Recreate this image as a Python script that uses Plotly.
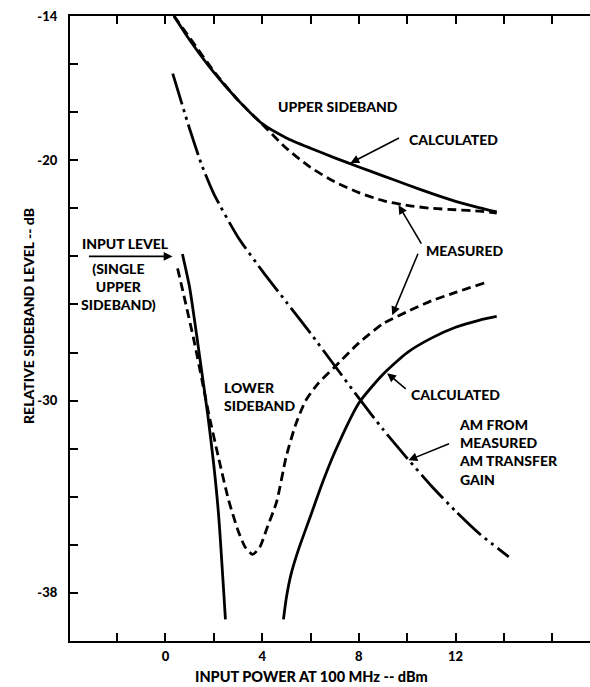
import plotly.graph_objects as go

# ---------------- data ----------------
upper_calc_x = [0.35, 1.0, 2.0, 3.0, 4.0, 5.0, 6.0, 7.0, 8.0, 9.0, 10.0, 11.0, 12.0, 13.0, 13.7]
upper_calc_y = [-14.0, -15.0, -16.35, -17.5, -18.48, -19.07, -19.5, -19.9, -20.28, -20.65, -21.02, -21.38, -21.71, -21.98, -22.15]

upper_meas_x = [0.35, 1.0, 2.0, 3.0, 4.0, 5.0, 6.0, 7.0, 8.0, 9.0, 10.0, 11.0, 12.0, 13.0, 13.7]
upper_meas_y = [-14.0, -14.9, -16.3, -17.5, -18.5, -19.5, -20.3, -20.9, -21.35, -21.68, -21.88, -22.0, -22.06, -22.12, -22.2]

am_x = [0.3, 1.0, 1.5, 2.0, 3.0, 4.0, 5.0, 6.0, 7.0, 8.0, 9.0, 10.0, 11.0, 12.0, 13.0, 14.2]
am_y = [-16.4, -18.7, -20.2, -21.4, -23.2, -24.6, -25.9, -27.2, -28.55, -29.9, -31.2, -32.4, -33.55, -34.6, -35.55, -36.5]

lower_calc_a_x = [0.7, 1.0, 1.25, 1.5, 1.75, 2.0, 2.2, 2.48]
lower_calc_a_y = [-23.9, -25.3, -27.0, -28.8, -30.6, -32.7, -34.8, -39.1]

lower_calc_b_x = [4.88, 5.0, 5.2, 5.5, 6.0, 6.5, 7.0, 8.0, 9.0, 10.0, 11.0, 12.0, 13.0, 13.7]
lower_calc_b_y = [-39.1, -38.2, -37.2, -36.2, -34.8, -33.4, -32.15, -30.1, -28.9, -28.0, -27.4, -26.95, -26.65, -26.5]

lower_meas_x = [0.5, 0.8, 1.2, 1.5, 1.8, 2.2, 2.6, 3.0, 3.3, 3.6, 3.9, 4.2, 4.6, 5.0, 5.4, 5.8, 6.3, 7.0, 8.0, 9.0, 10.0, 11.0, 12.0, 13.2]
lower_meas_y = [-24.5, -25.8, -27.6, -29.1, -30.6, -32.4, -34.1, -35.4, -36.1, -36.4, -36.1, -35.3, -34.2, -32.3, -30.95, -30.0, -29.3, -28.6, -27.6, -26.8, -26.3, -25.85, -25.5, -25.1]

x_tick_vals = [-2, 0, 2, 4, 6, 8, 10, 12, 14, 16]
x_tick_text = ["", "0", "", "4", "", "8", "", "12", "", ""]
y_tick_vals = [-38, -36, -34, -32, -30, -28, -26, -24, -22, -20, -18, -16, -14]
y_tick_text = ["-38", "", "", "", "-30", "", "", "", "", "-20", "", "", "-14"]

# ---------------- styling ----------------
FONT = "Lato"
WEIGHT = 900
BLACK = "#000000"
LW = 2.8
DASH = "9px,5px"
DASHDOT = "32px,5px,3px,5px,3px,5px"

fig = go.Figure()

def add_line(x, y, dash):
    fig.add_trace(go.Scatter(x=x, y=y, mode="lines",
                             line=dict(color=BLACK, width=LW, dash=dash, shape="spline", smoothing=0.6),
                             showlegend=False, hoverinfo="skip"))

add_line(upper_calc_x, upper_calc_y, "solid")
add_line(upper_meas_x, upper_meas_y, DASH)
add_line(am_x, am_y, DASHDOT)
add_line(lower_calc_a_x, lower_calc_a_y, "solid")
add_line(lower_calc_b_x, lower_calc_b_y, "solid")
add_line(lower_meas_x, lower_meas_y, DASH)

tfont = dict(family=FONT, size=14, color=BLACK, weight=WEIGHT)
annotations = []

def text(t, x, y, anchor="center"):
    annotations.append(dict(text=t, x=x, y=y, xref="x", yref="y", showarrow=False, font=tfont,
                            xanchor=anchor, yanchor="middle", align=anchor if anchor != "center" else "center"))

def arrow(tx, ty, hx, hy):
    annotations.append(dict(text="", x=hx, y=hy, ax=tx, ay=ty, xref="x", yref="y", axref="x", ayref="y",
                            showarrow=True, arrowhead=2, arrowsize=1.1, arrowwidth=1.6, arrowcolor=BLACK,
                            standoff=0, startstandoff=0))

text("UPPER SIDEBAND", 7.14, -17.75)
text("CALCULATED", 11.9, -19.13)
text("MEASURED", 12.37, -23.74)
text("CALCULATED", 11.98, -29.73)
text("AM FROM<br>MEASURED<br>AM TRANSFER<br>GAIN", 12.04, -32.15, anchor="left")
text("LOWER<br>SIDEBAND", 2.32, -29.84, anchor="left")
text("INPUT LEVEL", -1.65, -23.46)
text("(SINGLE<br>UPPER<br>SIDEBAND)", -1.93, -25.27)

arrow(9.72, -19.04, 7.65, -20.12)
arrow(10.62, -23.53, 9.64, -21.87)
arrow(10.47, -23.83, 9.38, -26.45)
arrow(10.0, -29.56, 9.17, -28.86)
arrow(11.79, -31.77, 10.05, -32.48)
arrow(-3.23, -24.0, 0.29, -24.0)

# axis titles
annotations.append(dict(text="RELATIVE SIDEBAND LEVEL -- dB", xref="paper", yref="y", x=0, y=-26.5,
                        xshift=-52, textangle=-90, showarrow=False,
                        font=dict(family=FONT, size=14, color=BLACK, weight=WEIGHT)))
annotations.append(dict(text="INPUT POWER AT 100 MHz -- dBm", xref="x", yref="paper", x=6.04, y=0,
                        yshift=-35, yanchor="middle", showarrow=False,
                        font=dict(family=FONT, size=14.5, color=BLACK, weight=WEIGHT)))

tickfont = dict(family=FONT, size=13, color=BLACK, weight=WEIGHT)
fig.update_layout(
    width=590, height=687,
    margin=dict(l=70, r=0, t=16, b=46),
    paper_bgcolor="white", plot_bgcolor="white",
    annotations=annotations,
    xaxis=dict(range=[-3.95, 17.56], showgrid=False, zeroline=False, showline=True, linecolor=BLACK, linewidth=2.2,
               mirror="ticks", ticks="inside", ticklen=8, tickwidth=1.6, tickcolor=BLACK,
               tickvals=x_tick_vals, ticktext=x_tick_text, tickfont=tickfont, ticklabelstandoff=2),
    yaxis=dict(range=[-40, -14], showgrid=False, zeroline=False, showline=True, linecolor=BLACK, linewidth=2.2,
               mirror=False, ticks="inside", ticklen=8, tickwidth=1.6, tickcolor=BLACK,
               tickvals=y_tick_vals, ticktext=y_tick_text, tickfont=tickfont, ticklabelstandoff=8),
)

fig.write_html("out.html")
